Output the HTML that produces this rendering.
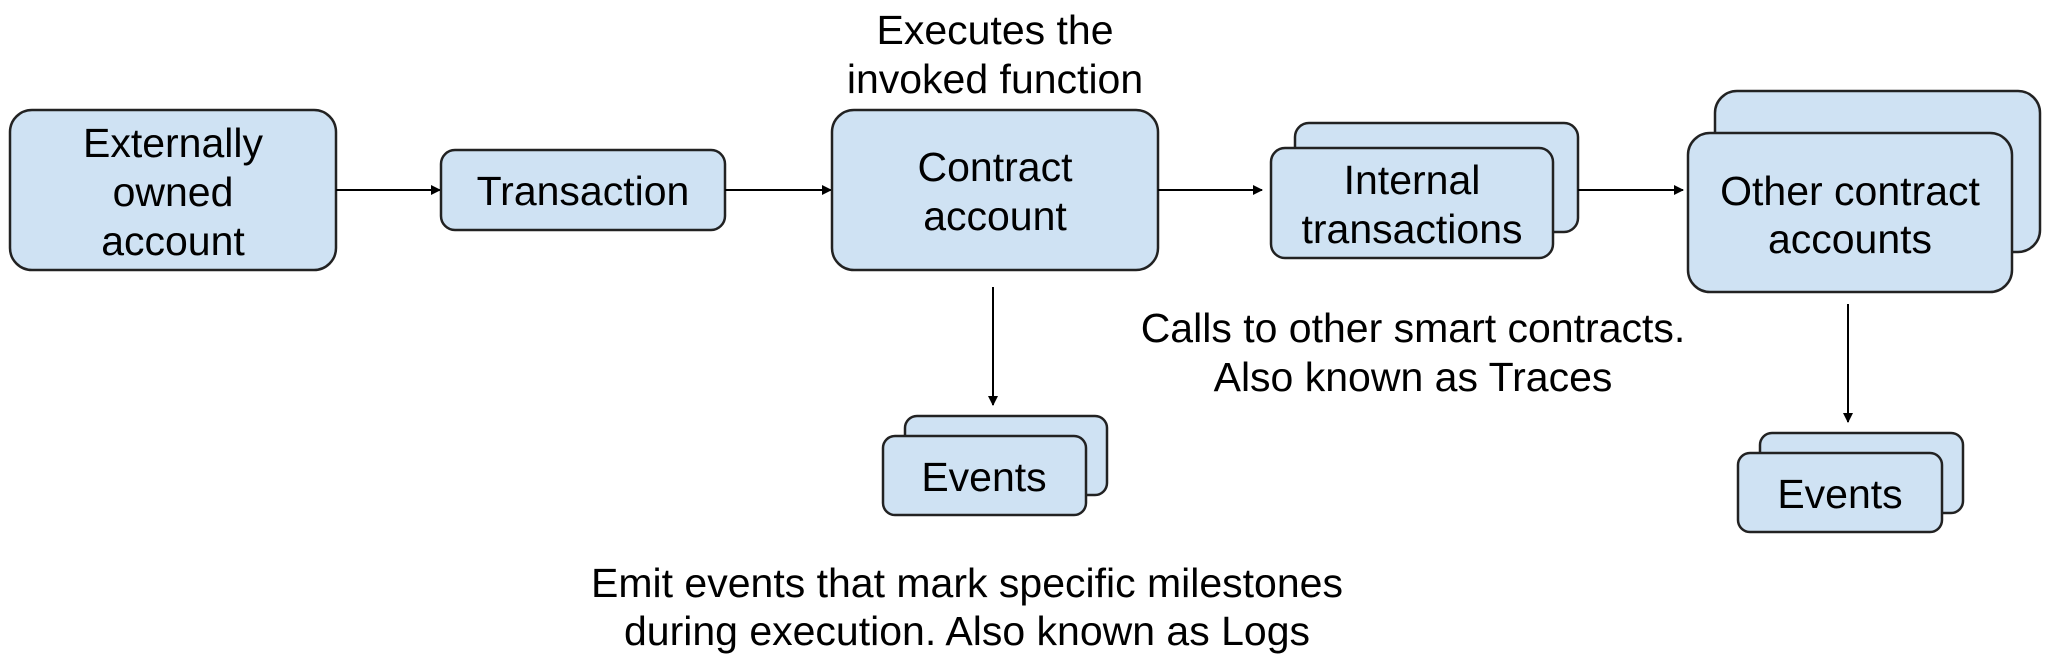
<!DOCTYPE html>
<html><head><meta charset="utf-8"><style>
html,body{margin:0;padding:0;background:#fff}
svg{display:block}
text{font-family:"Liberation Sans",Arial,sans-serif;font-size:41px;fill:#000;text-anchor:middle}
rect{fill:#cfe2f3;stroke:#222;stroke-width:2.5}
line{stroke:#000;stroke-width:2}
</style></head><body>
<svg width="2048" height="657" viewBox="0 0 2048 657" xmlns="http://www.w3.org/2000/svg">
<defs><marker id="a" markerWidth="10" markerHeight="10" refX="9" refY="5" orient="auto" markerUnits="userSpaceOnUse"><path d="M0,0 L10,5 L0,10 z" fill="#000"/></marker></defs>

<rect x="10" y="110" width="326" height="160" rx="22"/>
<text x="173" y="157">Externally</text>
<text x="173" y="206">owned</text>
<text x="173" y="255">account</text>

<line x1="336" y1="190" x2="440" y2="190" marker-end="url(#a)"/>

<rect x="441" y="150" width="284" height="80" rx="14"/>
<text x="583" y="205">Transaction</text>

<line x1="725" y1="190" x2="831" y2="190" marker-end="url(#a)"/>

<text x="995" y="44">Executes the</text>
<text x="995" y="93">invoked function</text>

<rect x="832" y="110" width="326" height="160" rx="22"/>
<text x="995" y="181">Contract</text>
<text x="995" y="230">account</text>

<line x1="993" y1="287" x2="993" y2="405" marker-end="url(#a)"/>

<rect x="905" y="416" width="202" height="79" rx="12"/>
<rect x="883" y="436" width="203" height="79" rx="12"/>
<text x="984" y="491">Events</text>

<text x="967" y="597">Emit events that mark specific milestones</text>
<text x="967" y="645">during execution. Also known as Logs</text>

<line x1="1158" y1="190" x2="1262" y2="190" marker-end="url(#a)"/>

<rect x="1295" y="123" width="283" height="109" rx="14"/>
<rect x="1271" y="148" width="282" height="110" rx="14"/>
<text x="1412" y="194">Internal</text>
<text x="1412" y="243">transactions</text>

<text x="1413" y="342">Calls to other smart contracts.</text>
<text x="1413" y="391">Also known as Traces</text>

<line x1="1578" y1="190" x2="1683" y2="190" marker-end="url(#a)"/>

<rect x="1715" y="91" width="325" height="161" rx="22"/>
<rect x="1688" y="133" width="324" height="159" rx="22"/>
<text x="1850" y="205">Other contract</text>
<text x="1850" y="253">accounts</text>

<line x1="1848" y1="304" x2="1848" y2="422" marker-end="url(#a)"/>

<rect x="1760" y="433" width="203" height="80" rx="12"/>
<rect x="1738" y="453" width="204" height="79" rx="12"/>
<text x="1840" y="508">Events</text>
</svg>
</body></html>
